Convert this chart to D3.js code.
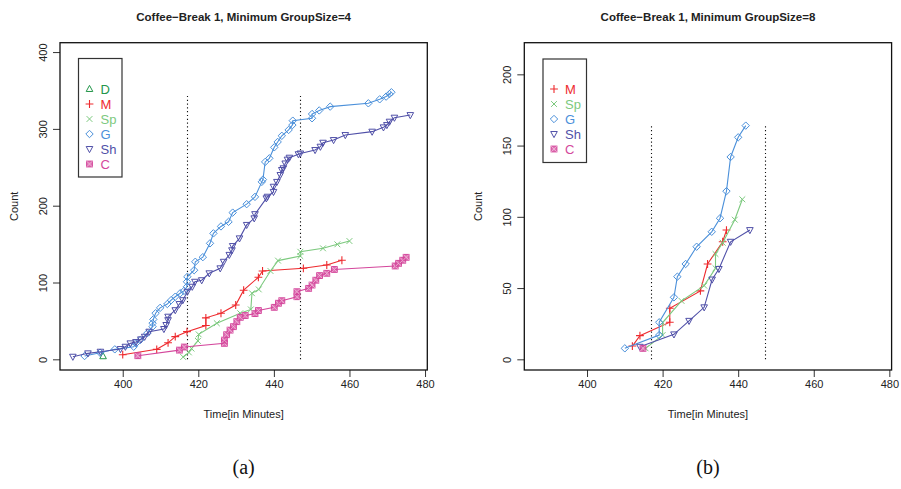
<!DOCTYPE html>
<html>
<head>
<meta charset="utf-8">
<script src="https://cdn.jsdelivr.net/npm/d3@7"></script>
<style>
  html, body { margin: 0; padding: 0; background: #fff; }
  svg { display: block; }
  text { font-family: "Liberation Sans", Arial, sans-serif; }
  text.tag { font-family: "Liberation Serif", "Times New Roman", serif; }
</style>
</head>
<body>
<svg id="chart" width="901" height="489"></svg>
<script>
// ---- data -------------------------------------------------------------
const timeTicks = [400, 420, 440, 460, 480];
const countTicksA = [0, 100, 200, 300, 400];
const countTicksB = [0, 50, 100, 150, 200];
const breakTimes = [417, 447];
const breakTopA = 343;
const breakTopB = 164;

const groupNames = ["D", "M", "Sp", "G", "Sh", "C"];
const groupColors = ["#23964a", "#ee2a2e", "#7cc97e", "#4b90da", "#5050a8", "#d4479c"];

// minimum group size 4: [time, count]
const a_D = [[394.8, 4]];
const a_M = [[400, 6], [409, 13], [412, 21.5], [413.9, 29.5], [417, 36], [422, 44], [422, 54],
  [426, 60], [429.9, 70.7], [432, 90], [435.9, 106.8], [437, 115], [447.8, 118.5], [454, 122.8], [458, 129]];
const a_Sp = [[416, 3], [417.5, 9], [418.2, 14], [419.9, 24], [420.1, 32.5], [424.9, 47], [431.1, 60],
  [433.9, 65], [434.2, 86], [436, 91], [439.1, 115], [441.1, 128.5], [447, 134.5], [447, 140],
  [453, 144.5], [456.8, 149.7], [460, 154]];
const a_G = [[389.9, 4.3], [394, 8.6], [397.9, 13], [402.9, 16.4], [403.5, 20.8], [404.6, 25], [406.5, 34],
  [407.9, 42.5], [407.9, 47], [408.1, 52], [408.7, 60], [409.9, 67], [411.8, 72], [412.8, 77],
  [413.9, 81.5], [415.2, 86], [416.2, 89], [417, 94.5], [417, 101], [417.1, 107.5], [418.9, 116],
  [419.2, 127], [421.2, 133], [423.1, 151], [424, 164], [426, 173], [428, 179], [429.1, 191],
  [432.8, 202], [435, 211.5], [436.8, 231], [437.1, 234], [437.7, 257], [438.8, 261.7], [440.1, 276],
  [441, 283], [442.1, 291], [443.9, 298.6], [444.9, 305], [445, 310.7], [450.1, 313.8], [450.1, 319.4],
  [452, 324], [454.9, 329], [465, 333.3], [468, 338.5], [469.7, 342], [470.6, 345.4], [471.1, 347.7]];
const a_Sh = [[386.8, 3.4], [390.8, 7.8], [394.1, 9.9], [399.4, 13.4], [400.7, 16.4], [402, 20.8],
  [403.5, 22.5], [404.8, 26], [405.8, 29.4], [407, 36], [410.9, 39.5], [411.5, 44.7], [412, 51],
  [412, 55.5], [413.9, 64], [415, 72], [415.9, 77], [417.1, 88], [418.4, 94.5], [419.1, 101],
  [420.9, 103], [422.9, 112], [425.8, 118.5], [426.7, 127], [428.2, 136], [428.9, 142], [429.1, 147.5],
  [430.9, 157.5], [432.8, 175], [434.8, 183.6], [435, 189], [438, 209.6], [438.3, 211.7], [439.9, 218],
  [439.9, 224.7], [440.8, 231], [441.7, 240], [442.1, 246.5], [442.5, 248.7], [443, 255], [443.6, 260],
  [444.1, 262.5], [446.5, 267], [447, 268], [450.9, 272.5], [452.3, 276.8], [453, 282], [455.8, 285.5],
  [458.9, 292], [466, 296.4], [469, 302], [469.9, 305], [470.6, 309.4], [471.9, 314.6], [476.1, 318]];
const a_C = [[404, 4.7], [415, 12], [416.3, 16], [426.9, 20.8], [426.9, 25], [427.5, 32], [428.4, 38],
  [429.3, 42.5], [430.2, 49], [431.1, 54.7], [432.4, 57], [435, 59.5], [435.9, 63.5], [440.1, 67.7],
  [441.2, 73], [442.1, 76.3], [446.1, 81.5], [446.1, 88], [449.2, 92.4], [450.1, 96.7], [451.1, 103],
  [452.1, 109], [454, 112], [456, 117], [472.1, 121.5], [473, 125], [474.1, 129], [475, 132.8]];

// minimum group size 8: [time, count]
const b_M = [[412, 9.3], [414, 16.6], [421.9, 26], [421.9, 35.8], [430, 48], [431.9, 66.9],
  [435.9, 82.5], [436.9, 90.7]];
const b_Sp = [[415.5, 7.7], [420, 17], [420, 25.8], [425, 41], [431, 51.7], [434, 63.9], [434, 73.9],
  [435.9, 81.8], [439.1, 98], [441.1, 112.3]];
const b_G = [[410, 7.7], [419.1, 17], [419.1, 26], [423, 43.5], [423.9, 58], [426.1, 66.9], [429, 79],
  [433, 89.5], [435.2, 99], [436.9, 118], [438, 142], [440, 155.8], [442, 164]];
const b_Sh = [[414, 8.8], [423, 17.5], [427, 27], [431, 36.5], [433.1, 56], [434.9, 63.4],
  [438, 82.5], [443.1, 90.7]];
const b_C = [[414.8, 7.7]];

// ---- drawing ------------------------------------------------------------
const svg = d3.select("#chart");

// marker shapes in R style: triangle, plus, cross, diamond, inverted triangle, boxed cross
function drawMarker(g, kind, x, y, color) {
  const r = 3.3;
  if (kind === "D") {
    g.append("path").attr("d", `M${x},${y - r * 1.1}L${x + r},${y + r * 0.75}L${x - r},${y + r * 0.75}Z`)
      .attr("fill", "none").attr("stroke", color).attr("stroke-width", 1);
  } else if (kind === "M") {
    g.append("path").attr("d", `M${x - r - 0.6},${y}H${x + r + 0.6}M${x},${y - r - 0.6}V${y + r + 0.6}`)
      .attr("stroke", color).attr("stroke-width", 1.1);
  } else if (kind === "Sp") {
    g.append("path").attr("d", `M${x - r + 0.4},${y - r + 0.4}L${x + r - 0.4},${y + r - 0.4}M${x - r + 0.4},${y + r - 0.4}L${x + r - 0.4},${y - r + 0.4}`)
      .attr("stroke", color).attr("stroke-width", 1);
  } else if (kind === "G") {
    g.append("path").attr("d", `M${x},${y - r - 0.4}L${x + r + 0.4},${y}L${x},${y + r + 0.4}L${x - r - 0.4},${y}Z`)
      .attr("fill", "none").attr("stroke", color).attr("stroke-width", 1);
  } else if (kind === "Sh") {
    g.append("path").attr("d", `M${x},${y + r * 1.1}L${x + r},${y - r * 0.75}L${x - r},${y - r * 0.75}Z`)
      .attr("fill", "none").attr("stroke", color).attr("stroke-width", 1);
  } else if (kind === "C") {
    const s = r - 0.4;
    g.append("rect").attr("x", x - s).attr("y", y - s).attr("width", 2 * s).attr("height", 2 * s)
      .attr("fill", color).attr("fill-opacity", 0.75).attr("stroke", color).attr("stroke-width", 1);
    g.append("path").attr("d", `M${x - s},${y - s}L${x + s},${y + s}M${x - s},${y + s}L${x + s},${y - s}`)
      .attr("stroke", "#f3c6e0").attr("stroke-width", 0.7);
  }
}

function panel(opts) {
  const { left, right, top, bottom, yDomain, yTicks, series, legendKeys, legendBox, title, tag, breakTop } = opts;
  const x = d3.scaleLinear().domain([383.4, 480.6]).range([left, right]);
  const y = d3.scaleLinear().domain(yDomain).range([bottom, top]);
  const g = svg.append("g");

  // dotted break markers
  breakTimes.forEach(t => {
    g.append("line")
      .attr("x1", Math.round(x(t)) + 0.5).attr("x2", Math.round(x(t)) + 0.5)
      .attr("y1", y(0)).attr("y2", y(breakTop))
      .attr("stroke", "#111").attr("stroke-width", 1.1).attr("stroke-dasharray", "1.2 2.6");
  });

  // series lines and markers
  const line = d3.line().x(d => x(d[0])).y(d => y(d[1]));
  series.forEach(s => {
    const color = groupColors[groupNames.indexOf(s.key)];
    if (s.data.length > 1) {
      g.append("path").datum(s.data).attr("d", line)
        .attr("fill", "none").attr("stroke", color).attr("stroke-width", 1.1);
    }
    const mg = g.append("g");
    s.data.forEach(d => drawMarker(mg, s.key, x(d[0]), y(d[1]), color));
  });

  // axes
  const xAxis = d3.axisBottom(x).tickValues(timeTicks).tickSize(7).tickPadding(3).tickFormat(d3.format("d"));
  const gx = g.append("g").attr("transform", `translate(0,${bottom})`).call(xAxis);
  gx.select(".domain").remove();
  gx.selectAll("line").attr("stroke", "#333");
  gx.selectAll("text").attr("font-size", 11).attr("fill", "#222");

  const yAxis = d3.axisLeft(y).tickValues(yTicks).tickSize(7).tickFormat(d3.format("d"));
  const gy = g.append("g").attr("transform", `translate(${left},0)`).call(yAxis);
  gy.select(".domain").remove();
  gy.selectAll("line").attr("stroke", "#333");
  gy.selectAll("text").attr("font-size", 11).attr("fill", "#222")
    .attr("text-anchor", "middle").attr("x", null)
    .attr("transform", "translate(-17,0) rotate(-90)").attr("dy", "0.35em");

  // frame
  g.append("rect").attr("x", left).attr("y", top).attr("width", right - left).attr("height", bottom - top)
    .attr("fill", "none").attr("stroke", "#111").attr("stroke-width", 1.3);

  const cx = (left + right) / 2;
  g.append("text").attr("x", cx).attr("y", 21).attr("text-anchor", "middle")
    .attr("font-size", 11.5).attr("font-weight", "bold").attr("fill", "#222").text(title);
  g.append("text").attr("x", cx).attr("y", 418).attr("text-anchor", "middle")
    .attr("font-size", 11).attr("fill", "#222").text("Time[in Minutes]");
  g.append("text").attr("transform", `translate(${left - 46},${(top + bottom) / 2}) rotate(-90)`)
    .attr("text-anchor", "middle").attr("dy", "0.35em")
    .attr("font-size", 11).attr("fill", "#222").text("Count");
  g.append("text").attr("class", "tag").attr("x", cx).attr("y", 474).attr("text-anchor", "middle")
    .attr("font-size", 20).attr("fill", "#111").text(tag);

  // legend
  const lg = g.append("g");
  lg.append("rect").attr("x", legendBox.x).attr("y", legendBox.y)
    .attr("width", legendBox.w).attr("height", legendBox.h)
    .attr("fill", "#fff").attr("stroke", "#333").attr("stroke-width", 1.2);
  legendKeys.forEach((k, i) => {
    const color = groupColors[groupNames.indexOf(k)];
    const yy = legendBox.firstY + i * 15;
    drawMarker(lg, k, legendBox.symX, yy, color);
    lg.append("text").attr("x", legendBox.textX).attr("y", yy).attr("dy", "0.36em")
      .attr("font-size", 13).attr("fill", color).text(k);
  });
}

panel({
  left: 60, right: 427.3, top: 42.7, bottom: 370,
  yDomain: [-13.9, 412.2], yTicks: countTicksA, breakTop: breakTopA,
  series: [
    { key: "D", data: a_D }, { key: "M", data: a_M }, { key: "Sp", data: a_Sp },
    { key: "G", data: a_G }, { key: "Sh", data: a_Sh }, { key: "C", data: a_C }
  ],
  legendKeys: ["D", "M", "Sp", "G", "Sh", "C"],
  legendBox: { x: 78.5, y: 58.5, w: 43.5, h: 118.5, firstY: 89, symX: 89.5, textX: 100.5 },
  title: "Coffee\u2212Break 1, Minimum GroupSize=4", tag: "(a)"
});

panel({
  left: 524.3, right: 891.6, top: 42.7, bottom: 370,
  yDomain: [-7.5, 222.2], yTicks: countTicksB, breakTop: breakTopB,
  series: [
    { key: "M", data: b_M }, { key: "Sp", data: b_Sp }, { key: "G", data: b_G },
    { key: "Sh", data: b_Sh }, { key: "C", data: b_C }
  ],
  legendKeys: ["M", "Sp", "G", "Sh", "C"],
  legendBox: { x: 543, y: 59, w: 43.5, h: 103.5, firstY: 89, symX: 554, textX: 565 },
  title: "Coffee\u2212Break 1, Minimum GroupSize=8", tag: "(b)"
});
</script>
</body>
</html>
